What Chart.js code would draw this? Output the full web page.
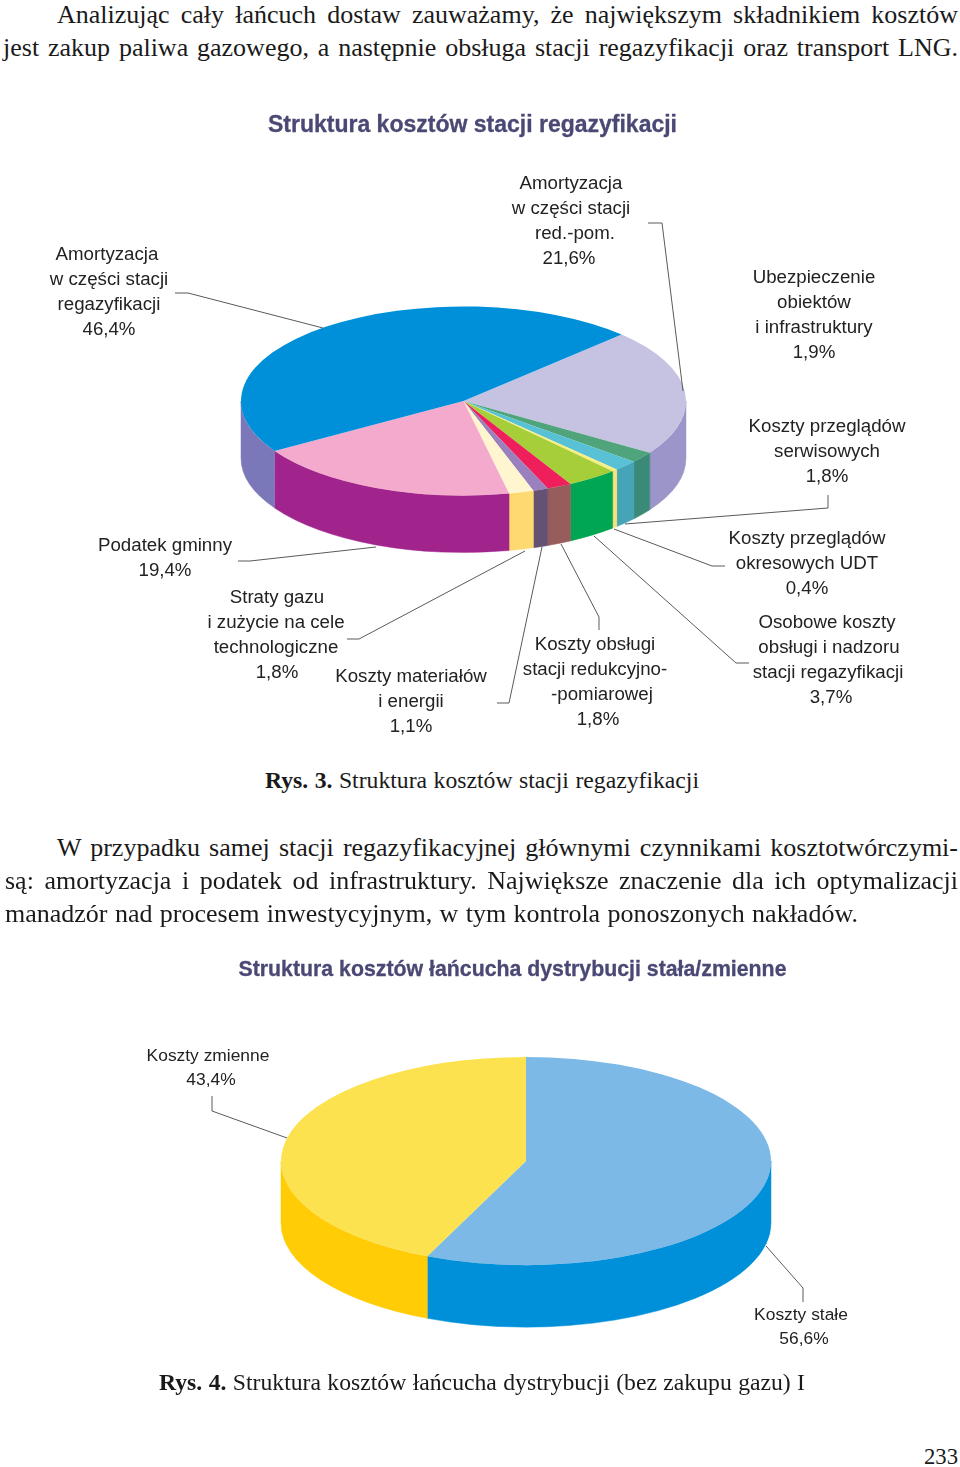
<!DOCTYPE html>
<html lang="pl">
<head>
  <meta charset="UTF-8">
  <title>Struktura kosztów stacji regazyfikacji</title>
  <script src="https://cdn.jsdelivr.net/npm/chart.js"></script>
  <style>
    * { box-sizing: border-box; margin: 0; padding: 0; }
    html, body { background: #fff; }
    body { position: relative; width: 960px; height: 1467px; overflow: hidden; }
    canvas { position: absolute; left: 0; }
    /* tekst strony */
    .line {
      position: absolute; height: 34px; line-height: 34px; white-space: nowrap;
      font-family: "Liberation Serif", serif; font-size: 26px; color: #1a1a1a;
      text-align: justify; text-align-last: justify;
    }
    .caption { font-size: 23.7px; }
    .title {
      position: absolute; white-space: nowrap; line-height: 30px; height: 30px;
      font-family: "Liberation Sans", sans-serif; font-weight: bold; color: #4a4874;
      text-align: center; -webkit-text-stroke: 0.3px #4a4874;
    }
    .label {
      position: absolute; white-space: nowrap; transform: translateX(-50%);
      font-family: "Liberation Sans", sans-serif; font-size: 18.7px; line-height: 25px;
      color: #222; text-align: center;
    }
    .label.small { font-size: 17.4px; line-height: 23.5px; }
    .label span { position: relative; }
  </style>
</head>
<body>
  <canvas id="stationChart" width="960" height="660" style="top:90px"></canvas>
  <canvas id="chainChart" width="960" height="522" style="top:900px"></canvas>

  <div class="line" style="left:57px;width:901px;top:-2px">Analizując cały łańcuch dostaw zauważamy, że największym składnikiem kosztów</div>
  <div class="line" style="left:3px;width:955px;top:31px">jest zakup paliwa gazowego, a następnie obsługa stacji regazyfikacji oraz transport LNG.</div>
  <div class="title" style="left:267px;width:411px;top:109px;font-size:23px">Struktura kosztów stacji regazyfikacji</div>
  <div class="line caption" style="left:265px;width:434px;top:763px"><b>Rys. 3.</b> Struktura kosztów stacji regazyfikacji</div>
  <div class="line" style="left:57px;width:901px;top:831px">W przypadku samej stacji regazyfikacyjnej głównymi czynnikami kosztotwórczymi-</div>
  <div class="line" style="left:5px;width:953px;top:864px">są: amortyzacja i podatek od infrastruktury. Największe znaczenie dla ich optymalizacji</div>
  <div class="line" style="left:5px;width:853px;top:897px">manadzór nad procesem inwestycyjnym, w tym kontrola ponoszonych nakładów.</div>
  <div class="title" style="left:238px;width:549px;top:954px;font-size:21.3px">Struktura kosztów łańcucha dystrybucji stała/zmienne</div>
  <div class="line caption" style="left:159px;width:646px;top:1365px"><b>Rys. 4.</b> Struktura kosztów łańcucha dystrybucji (bez zakupu gazu) I</div>
  <div class="line caption" style="left:924px;width:34px;top:1440px;font-size:22.7px">233</div>

  <script>
    // dane - rys. 3
    const stationCategories = [
      ['Amortyzacja', 'w części stacji', 'red.-pom.'],
      ['Ubezpieczenie', 'obiektów', 'i infrastruktury'],
      ['Koszty przeglądów', 'serwisowych'],
      ['Koszty przeglądów', 'okresowych UDT'],
      ['Osobowe koszty', 'obsługi i nadzoru', 'stacji regazyfikacji'],
      ['Koszty obsługi', 'stacji redukcyjno-', '-pomiarowej'],
      ['Koszty materiałów', 'i energii'],
      ['Straty gazu', 'i zużycie na cele', 'technologiczne'],
      ['Podatek gminny'],
      ['Amortyzacja', 'w części stacji', 'regazyfikacji']
    ];
    const stationValues = [21.6, 1.9, 1.8, 0.4, 3.7, 1.8, 1.1, 1.8, 19.4, 46.4];
    const stationTop = ['#c5c3e1', '#4fa47c', '#58c1d5', '#f7ef80', '#a6ce39', '#ee1f5b', '#9a80bc', '#fff6cf', '#f4aacd', '#0090d9'];
    const stationWall = ['#9c95c9', '#3b8a78', '#45a5b6', '#fde27c', '#00a651', '#975d5d', '#655172', '#fdd970', '#a1248d', '#7b78b9'];

    // dane - rys. 4
    const chainCategories = [['Koszty stałe'], ['Koszty zmienne']];
    const chainValues = [56.6, 43.4];
    const chainTop = ['#7cb9e6', '#fde24f'];
    const chainWall = ['#0090d9', '#ffcc05'];

    // gdzie stoją podpisy: środek x, górna krawędź bloku, przesunięcia linii
    const stationLabelPos = [[571, 170, [0, 0, 4, -2]], [814, 264], [827, 413], [807, 525], [828, 609, [-1, 1, 0, 3]], [596, 631, [-1, -1, 6, 2]], [411, 663], [276, 584, [1, 0, 0, 1]], [165, 532], [109, 241, [-2, 0, 0, 0]]];
    const chainLabelPos = [[801, 1303, [0, 3]], [208, 1044, [0, 3]]];

    // linie odniesienia, współrzędne strony
    const stationLeaders = [
      [[175, 293], [188, 293], [323, 328]],
      [[648, 223], [662, 223], [683, 391]],
      [[828, 495], [828, 508], [625, 524]],
      [[725, 566], [712, 566], [614, 529]],
      [[749, 663], [736, 663], [594, 536]],
      [[599, 630], [599, 617], [561, 544]],
      [[497, 703], [509, 703], [542, 547]],
      [[347, 639], [359, 639], [525, 551]],
      [[238, 561], [250, 561], [376, 547]]
    ];
    const chainLeaders = [
      [[212, 1096], [212, 1111], [287, 1138]],
      [[803, 1302], [803, 1288], [766, 1246]]
    ];

    const fmt = v => v.toFixed(1).replace('.', ',') + '%';

    function addLabels(categories, values, positions, small) {
      categories.forEach((lines, i) => {
        const [x, y, nudge] = positions[i];
        const div = document.createElement('div');
        div.className = small ? 'label small' : 'label';
        div.style.left = x + 'px';
        div.style.top = y + 'px';
        div.innerHTML = lines.concat(fmt(values[i]))
          .map((t, k) => `<span style="left:${nudge ? nudge[k] : 0}px">${t}</span>`)
          .join('<br>');
        document.body.appendChild(div);
      });
    }

    // ściana walca pod jednym wycinkiem
    function drawWall(ctx, arc, ry, depth, color) {
      const { x, y, startAngle, endAngle, outerRadius } = arc;
      [[0, Math.PI], [2 * Math.PI, 3 * Math.PI]].forEach(([lo, hi]) => {
        const a0 = Math.max(startAngle, lo);
        const a1 = Math.min(endAngle, hi);
        if (a1 <= a0) return;
        ctx.beginPath();
        ctx.ellipse(x, y, outerRadius, ry, 0, a0, a1);
        ctx.ellipse(x, y + depth, outerRadius, ry, 0, a1, a0, true);
        ctx.closePath();
        ctx.fillStyle = color;
        ctx.fill();
        ctx.strokeStyle = color;
        ctx.lineWidth = 0.5;
        ctx.stroke();
      });
    }

    // spłaszcza koło i dorysowuje ściany
    const pie3d = {
      id: 'pie3d',
      beforeDatasetsDraw(chart, args, opts) {
        const ctx = chart.ctx;
        const arcs = chart.getDatasetMeta(0).data;
        arcs.forEach((arc, i) => drawWall(ctx, arc, arc.outerRadius * opts.squash, opts.depth, opts.wall[i]));
        ctx.save();
        ctx.translate(arcs[0].x, arcs[0].y);
        ctx.scale(1, opts.squash);
        ctx.translate(-arcs[0].x, -arcs[0].y);
      },
      afterDatasetsDraw(chart) {
        chart.ctx.restore();
      },
      afterDraw(chart, args, opts) {
        const ctx = chart.ctx;
        const top = chart.canvas.offsetTop;
        ctx.save();
        ctx.strokeStyle = '#5a5a5a';
        ctx.lineWidth = 1;
        opts.leaders.forEach(pts => {
          ctx.beginPath();
          pts.forEach(([x, y], i) => i ? ctx.lineTo(x, y - top) : ctx.moveTo(x, y - top));
          ctx.stroke();
        });
        ctx.restore();
      }
    };

    function makePie(id, values, top, wall, opts) {
      return new Chart(document.getElementById(id), {
        type: 'pie',
        data: {
          labels: values.map(fmt),
          datasets: [{ data: values, backgroundColor: top, borderWidth: 0 }]
        },
        plugins: [pie3d],
        options: {
          responsive: false,
          animation: false,
          radius: opts.radius,
          rotation: opts.rotation,
          layout: { padding: opts.padding },
          plugins: {
            legend: { display: false },
            tooltip: { enabled: false },
            pie3d: { squash: opts.squash, depth: opts.depth, wall, leaders: opts.leaders }
          }
        }
      });
    }

    addLabels(stationCategories, stationValues, stationLabelPos, false);
    addLabels(chainCategories, chainValues, chainLabelPos, true);

    makePie('stationChart', stationValues, stationTop, stationWall, {
      radius: 222.5, rotation: 45.3, squash: 0.425, depth: 57,
      padding: { right: 33, bottom: 38 }, leaders: stationLeaders
    });
    makePie('chainChart', chainValues, chainTop, chainWall, {
      radius: 245, rotation: 0, squash: 0.425, depth: 62,
      padding: { left: 92 }, leaders: chainLeaders
    });
  </script>
</body>
</html>
